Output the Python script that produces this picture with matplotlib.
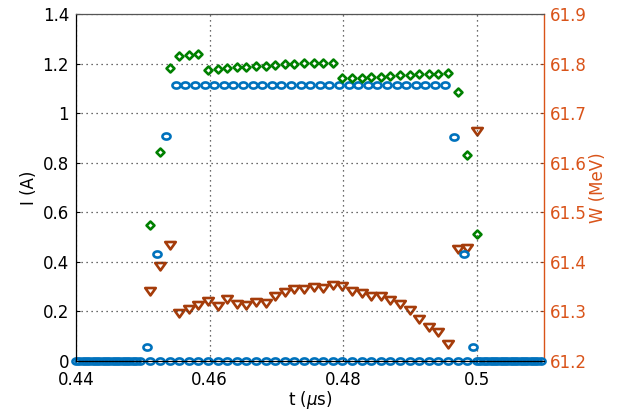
import numpy as np
import matplotlib
matplotlib.use("Agg")
import matplotlib.pyplot as plt
from matplotlib.path import Path

plt.rcParams['font.family'] = ['DejaVu Sans']
plt.rcParams['mathtext.fontset'] = 'dejavusans'

# ---- data -------------------------------------------------------------
bunch_spacing = 0.001436          # µs between bunches
t_start_current = 0.45063         # first bunch of the beam-current trace
t_start_bunch = 0.45113           # first bunch of the other traces

# beam current (A), one value per bunch
current = [0.057, 0.433, 0.907,
           1.113, 1.113, 1.113, 1.113, 1.113, 1.113, 1.113, 1.113, 1.113, 1.113,
           1.113, 1.113, 1.113, 1.113, 1.113, 1.113, 1.113, 1.113, 1.113, 1.113,
           1.113, 1.113, 1.113, 1.113, 1.113, 1.113, 1.113, 1.113, 1.113,
           0.903, 0.432, 0.057]

# second current trace (A)
current_b = [0.548, 0.845, 1.182, 1.229, 1.235, 1.239,
             1.175, 1.178, 1.181, 1.185, 1.187, 1.189, 1.191, 1.195, 1.197,
             1.197, 1.201, 1.202, 1.204, 1.204,
             1.142, 1.143, 1.143, 1.146, 1.147, 1.151, 1.152, 1.154, 1.157,
             1.159, 1.159, 1.161,
             1.084, 0.831, 0.513]

# bunch energy (MeV)
energy = [61.342, 61.391, 61.433, 61.296, 61.305, 61.312, 61.322, 61.310,
          61.326, 61.315, 61.313, 61.319, 61.317, 61.332, 61.339, 61.346,
          61.346, 61.350, 61.348, 61.354, 61.352,
          61.342, 61.337, 61.332, 61.332, 61.323, 61.315, 61.303, 61.284,
          61.269, 61.259, 61.234, 61.426, 61.428, 61.664]

# empty samples before and after the pulse
t_zero_before = np.arange(0.4400, 0.44965, 0.0005)
t_zero_after = np.arange(0.5005, 0.50955, 0.0005)

x_ticks = [0.44, 0.46, 0.48, 0.50]
x_tick_labels = ['0.44', '0.46', '0.48', '0.5']
i_ticks = [0, 0.2, 0.4, 0.6, 0.8, 1.0, 1.2, 1.4]
i_tick_labels = ['0', '0.2', '0.4', '0.6', '0.8', '1', '1.2', '1.4']
w_ticks = [61.2, 61.3, 61.4, 61.5, 61.6, 61.7, 61.8, 61.9]
w_tick_labels = ['61.2', '61.3', '61.4', '61.5', '61.6', '61.7', '61.8', '61.9']

t_current = t_start_current + bunch_spacing * np.arange(len(current))
t_bunch = t_start_bunch + bunch_spacing * np.arange(len(current_b))
t_zero = np.concatenate([t_zero_before, t_bunch, t_zero_after])
zero_current = np.zeros_like(t_zero)

# ---- marker shapes ----------------------------------------------------
theta = np.linspace(0, 2 * np.pi, 41)
ellipse = Path(np.column_stack([0.5 * np.cos(theta), 0.38 * np.sin(theta)]), closed=True)
diamond = Path([(0, 0.5), (0.5, 0), (0, -0.5), (-0.5, 0), (0, 0.5)], closed=True)
down_tri = Path([(-0.5, 0.33), (0.5, 0.33), (0, -0.37), (-0.5, 0.33)], closed=True)

BLUE = '#0072BD'
GREEN = '#008000'
BROWN = '#A53C0A'
ORANGE = '#D95319'
EDGE = 1.9

# ---- figure -----------------------------------------------------------
fig = plt.figure(figsize=(6.29, 4.11), dpi=100)
ax = fig.add_axes([76 / 629, 1 - 361 / 411, (544 - 76) / 629, (361 - 14) / 411])
ax2 = ax.twinx()
ax.set_zorder(ax2.get_zorder() + 1)
ax.patch.set_visible(False)

# energy on the right axis
ax2.plot(t_bunch, energy, linestyle='none', marker=down_tri, markersize=7.6,
         markerfacecolor='white', markeredgecolor=BROWN, markeredgewidth=EDGE,
         clip_on=False)

# currents on the left axis
ax.plot(t_zero, zero_current, linestyle='none', marker=ellipse, markersize=5.8,
        markerfacecolor='none', markeredgecolor=BLUE, markeredgewidth=EDGE,
        clip_on=False)
ax.plot(t_current, current, linestyle='none', marker=ellipse, markersize=5.8,
        markerfacecolor='none', markeredgecolor=BLUE, markeredgewidth=EDGE,
        clip_on=False)
ax.plot(t_bunch, current_b, linestyle='none', marker=diamond, markersize=5.7,
        markerfacecolor='none', markeredgecolor=GREEN, markeredgewidth=EDGE,
        clip_on=False)

ax.set_xlim(0.44, 0.51)
ax.set_ylim(0, 1.4)
ax2.set_ylim(61.2, 61.9)

ax.set_xticks(x_ticks)
ax.set_xticklabels(x_tick_labels)
ax.set_yticks(i_ticks)
ax.set_yticklabels(i_tick_labels)
ax2.set_yticks(w_ticks)
ax2.set_yticklabels(w_tick_labels)

ax.grid(True, color='#3a3a3a', linestyle=(0, (1, 3)), linewidth=0.9)
ax.set_axisbelow(True)

ax.tick_params(axis='both', direction='in', length=3, width=0.8, labelsize=12,
               colors='black')
ax.tick_params(axis='x', pad=7)
ax.tick_params(axis='y', pad=5)
ax2.tick_params(axis='y', direction='in', length=3, width=0.8, labelsize=12,
                colors=ORANGE, pad=4)

for side in ('left', 'bottom'):
    ax.spines[side].set_color('black')
    ax.spines[side].set_linewidth(0.9)
ax.spines['top'].set_color('#555555')
ax.spines['top'].set_linewidth(0.9)
ax.spines['right'].set_visible(False)
for side in ('left', 'top', 'bottom'):
    ax2.spines[side].set_visible(False)
ax2.spines['right'].set_color(ORANGE)
ax2.spines['right'].set_linewidth(1.0)

ax.set_xlabel(r't ($\mu$s)', fontsize=12, labelpad=0)
ax.set_ylabel('I (A)', fontsize=12, labelpad=3)
ax2.set_ylabel('W (MeV)', fontsize=12, color=ORANGE, rotation=90, labelpad=2)

fig.savefig('out.png', dpi=100)
